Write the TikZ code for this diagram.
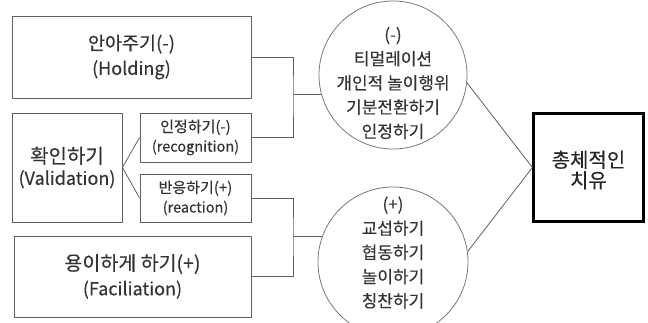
\documentclass[tikz,border=0pt]{standalone}
\usepackage{fontspec}
\setmainfont{Noto Sans CJK KR}[FakeBold=0.3]
\usetikzlibrary{calc}
\definecolor{txt}{HTML}{333333}
\definecolor{ln}{HTML}{606060}
\newcommand\fsz[1]{\fontsize{#1}{25}\selectfont}
\begin{document}
\begin{tikzpicture}[x=1pt,y=-1pt,
  box/.style={draw=ln,line width=0.9pt,rectangle,align=center,text=txt,inner sep=0pt},
  bigtext/.style={font=\fontsize{18}{25}\selectfont},
  smalltext/.style={font=\fontsize{14.5}{19.5}\selectfont},
  circ/.style={draw=ln!85,line width=0.8pt,circle,inner sep=0pt},
  ctext/.style={align=center,text=txt,inner sep=0pt,font=\fontsize{17}{24.2}\selectfont},
  conn/.style={draw=ln,line width=0.8pt}]
\useasboundingbox (0,0) rectangle (648,323);
\clip (0,0) rectangle (648,323);
\node[box,bigtext,minimum width=239,minimum height=82] (hold) at (131.5,57) {{\fsz{18.5}안아주기(-)}\\(Holding)};
\node[box,font=\fontsize{18}{21.5}\selectfont,minimum width=110,minimum height=109] (val) at (67,167.5) {{\fontsize{20}{21.5}\selectfont 확인하기}\\(Validation)};
\node[box,smalltext,minimum width=111,minimum height=49] (rec) at (195.5,137.5) {{\fontsize{15}{19.5}\selectfont 인정하기(-)}\\(recognition)};
\node[box,smalltext,minimum width=111,minimum height=48] (rea) at (195.5,198) {{\fontsize{15}{19.5}\selectfont 반응하기(+)}\\(reaction)};
\node[box,bigtext,minimum width=237,minimum height=81] (fac) at (132.5,276.5) {{\fsz{19.5}용이하게 하기(+)}\\(Faciliation)};
\node[circ,minimum size=148] (c1) at (393,75) {};
\node[ctext] (t1) at (393,83) {(-)\\티멀레이션\\개인적 놀이행위\\기분전환하기\\인정하기};
\node[circ,minimum size=150] (c2) at (393,262) {};
\node[ctext] (t2) at (393,252.5) {(+)\\교섭하기\\협동하기\\놀이하기\\칭찬하기};
\node[draw=black,line width=2.2pt,rectangle,minimum width=110,minimum height=108] (fin) at (588.5,167.5) {};
\node[align=center,text=black!85,inner sep=0pt,font=\fontsize{20}{20.5}\selectfont] (ft) at (588.5,170) {총체적인\\치유};
\coordinate (xj) at (293,0);
\coordinate (j1) at (c1.195 -| xj);
\coordinate (j2) at (c2.160 -| xj);
\draw[conn] (hold.east) -| (j1) |- (rec.east);
\draw[conn] (j1) -- (c1.195);
\draw[conn] (rea.east) -| (j2) |- (fac.east);
\draw[conn] (j2) -- (c2.160);
\draw[conn] (val.east) -- (rec.west);
\draw[conn] (val.east) -- (rea.west);
\draw[conn] (c1.354) -- (fin.west);
\draw[conn] (c2.8) -- (fin.west);
\end{tikzpicture}
\end{document}
